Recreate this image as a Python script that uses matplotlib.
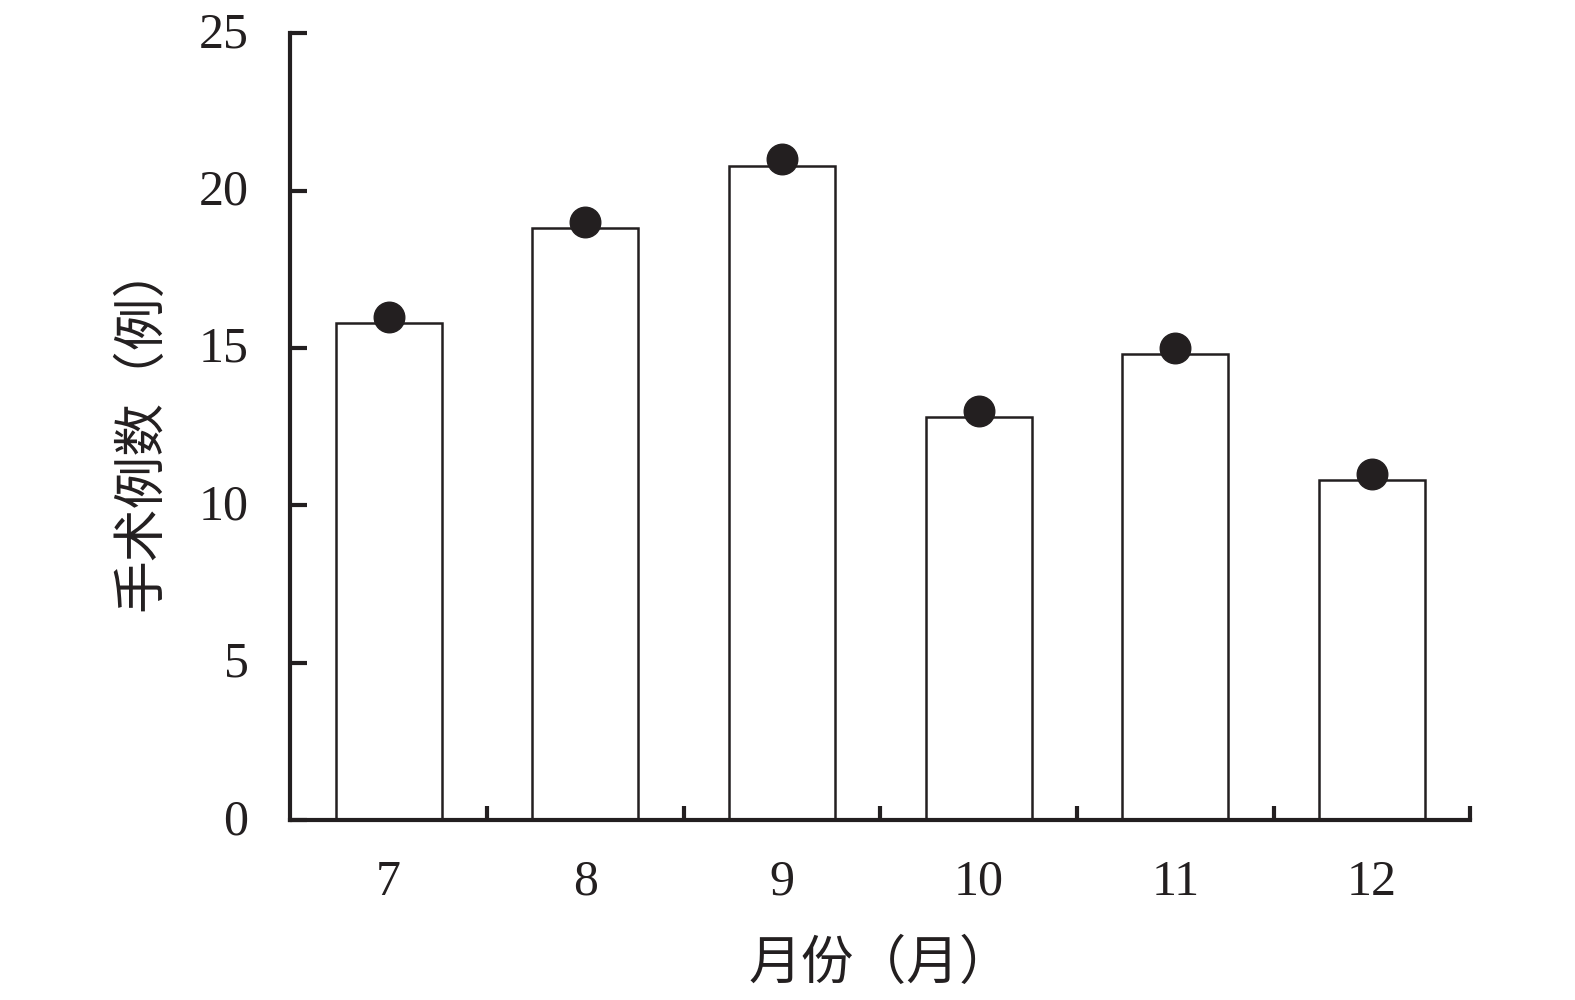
import matplotlib
matplotlib.use("Agg")
import matplotlib.pyplot as plt
import matplotlib.transforms as mtransforms
import numpy as np

months = ["7", "8", "9", "10", "11", "12"]
bar_values = [15.8, 18.8, 20.8, 12.8, 14.8, 10.8]
point_values = [16, 19, 21, 13, 15, 11]
y_ticks = [0, 5, 10, 15, 20, 25]

ink = "#231f20"
serif = ["Liberation Serif", "DejaVu Serif"]
cjk = ["Noto Sans CJK SC", "DejaVu Sans"]

fig = plt.figure(figsize=(15.75, 10), dpi=100)
ax = fig.add_axes([0.1843, 0.1797, 0.7493, 0.787])

x = np.arange(len(months))
ax.bar(x, bar_values, width=0.54, facecolor="white", edgecolor=ink, linewidth=1.8, zorder=2)
ax.plot(x, point_values, linestyle="none", marker="o", markersize=22, color=ink, zorder=3)

ax.set_xlim(-0.5, len(months) - 0.5)
ax.set_ylim(0, 25)
ax.set_yticks(y_ticks)
ax.set_yticklabels([str(v) for v in y_ticks], fontfamily=serif, fontsize=36, color=ink)

ax.set_xticks(x)
ax.set_xticklabels(months, fontfamily=serif, fontsize=36, color=ink)
ax.set_xticks(np.arange(len(months)) + 0.5, minor=True)
ax.tick_params(axis="x", which="major", length=0, pad=28)
ax.tick_params(axis="x", which="minor", direction="in", length=10, width=3, color=ink)
ax.tick_params(axis="y", which="major", direction="in", length=12, width=3, color=ink, pad=30)

shift = mtransforms.ScaledTranslation(0, 4 / 100, fig.dpi_scale_trans)
for lbl in ax.get_yticklabels():
    lbl.set_transform(lbl.get_transform() + shift)

for s in ["top", "right"]:
    ax.spines[s].set_visible(False)
for s in ["left", "bottom"]:
    ax.spines[s].set_linewidth(3)
    ax.spines[s].set_color(ink)

ax.set_ylabel("手术例数（例）", fontfamily=cjk, fontsize=38, color=ink, labelpad=22)
ax.set_xlabel("月份（月）", fontfamily=cjk, fontsize=38, color=ink, labelpad=22)

fig.savefig("out.png", dpi=100, facecolor="white")
